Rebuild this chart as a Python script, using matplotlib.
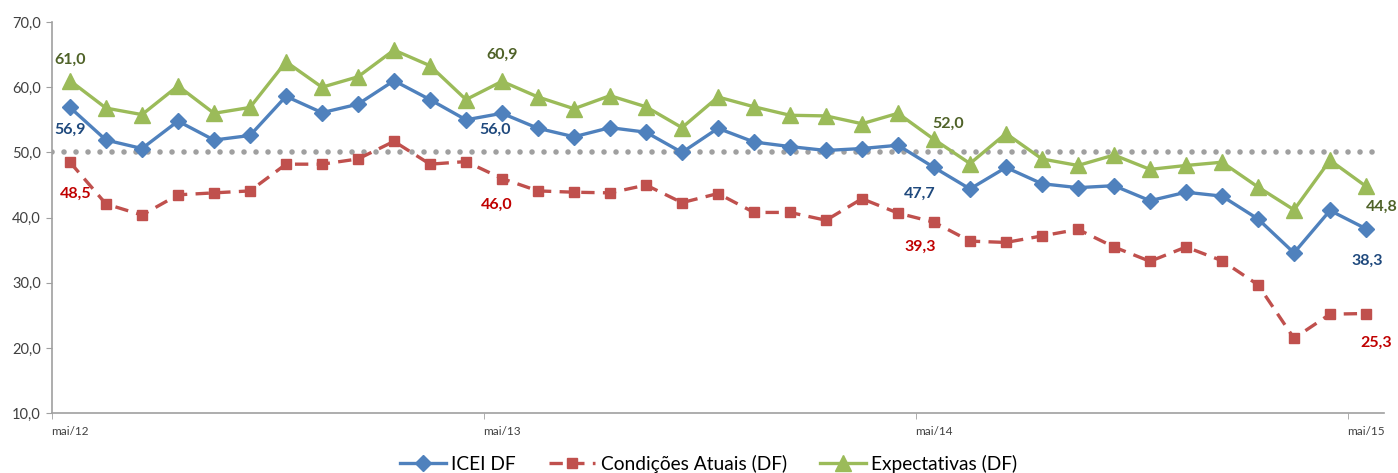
import matplotlib
matplotlib.use("Agg")
import matplotlib.pyplot as plt

months = ["mai/12", "mai/13", "mai/14", "mai/15"]
n_points = 37

icei = [56.9, 51.9, 50.6, 54.8, 51.9, 52.6, 58.6, 56.1, 57.4, 61.0, 58.1, 55.0,
        56.0, 53.7, 52.4, 53.8, 53.1, 50.0, 53.7, 51.6, 50.9, 50.3, 50.6, 51.1,
        47.7, 44.4, 47.7, 45.2, 44.6, 44.9, 42.6, 43.9, 43.3, 39.8, 34.6, 41.1, 38.3]
cond = [48.5, 42.1, 40.4, 43.5, 43.8, 44.1, 48.2, 48.2, 49.0, 51.7, 48.2, 48.6,
        46.0, 44.1, 43.9, 43.8, 45.0, 42.3, 43.7, 40.8, 40.8, 39.6, 42.9, 40.7,
        39.3, 36.4, 36.2, 37.2, 38.2, 35.5, 33.3, 35.5, 33.4, 29.7, 21.5, 25.2, 25.3]
expe = [61.0, 56.8, 55.8, 60.2, 56.0, 56.9, 63.9, 60.0, 61.6, 65.7, 63.3, 58.1,
        60.9, 58.5, 56.7, 58.7, 57.0, 53.8, 58.5, 57.0, 55.7, 55.6, 54.4, 56.0,
        52.0, 48.3, 52.9, 49.0, 48.0, 49.6, 47.4, 48.0, 48.5, 44.7, 41.2, 48.8, 44.8]
reference = 50.0
labelled = [0, 12, 24, 36]

plt.rcParams['font.family'] = ['Lato', 'DejaVu Sans']

fig = plt.figure(figsize=(13.98, 4.73), dpi=100)
ax = fig.add_axes([52/1398, 1-413.3/473, (1384-52)/1398, (413.3-22)/473])

x = list(range(n_points))

ax.plot([-0.5, n_points-0.5], [reference, reference], color='#A0A0A0', lw=4.0,
        linestyle=(0, (0.01, 2.15)), dash_capstyle='round', zorder=1)

l1, = ax.plot(x, icei, color='#4F81BD', lw=2.4, marker='D', markersize=8,
              label='ICEI DF', zorder=3)
l2, = ax.plot(x, cond, color='#C0504D', lw=2.4, marker='s', markersize=7.5,
              linestyle=(0, (4, 2.5)), label='Condições Atuais (DF)', zorder=3)
l3, = ax.plot(x, expe, color='#9BBB59', lw=2.4, marker='^', markersize=11.5,
              label='Expectativas (DF)', zorder=2)

ax.set_xlim(-0.5, n_points-0.5)
ax.set_ylim(10, 70)
ax.set_yticks(range(10, 71, 10))
ax.set_yticklabels([f"{v:.1f}".replace('.', ',') for v in range(10, 71, 10)],
                   fontsize=10.5, color='#404040')
ax.set_xticks([0, 12, 24, 36])
ax.set_xticklabels(months, fontsize=8.5, color='#404040')
ax.tick_params(axis='x', which='major', length=0, pad=9)
ax.set_xticks([-0.5, 11.5, 23.5, 35.5], minor=True)
ax.tick_params(axis='x', which='minor', length=4, color='#A0A0A0', direction='out')
ax.tick_params(axis='y', length=4, color='#A0A0A0', pad=4)

for s in ['top', 'right']:
    ax.spines[s].set_visible(False)
for s in ['left', 'bottom']:
    ax.spines[s].set_color('#A0A0A0')
    ax.spines[s].set_linewidth(1.2)

def fmt(v):
    return f"{v:.1f}".replace('.', ',')

green_off = {0: (0, 15), 12: (0, 19), 24: (10, 11), 36: (11.5, -15)}
blue_off = {0: (0, -16), 12: (-5, -12), 24: (-10, -19), 36: (1, -23)}
red_off = {0: (4, -23), 12: (-4, -19), 24: (-10, -18), 36: (7, -21)}

for i in labelled:
    ax.annotate(fmt(expe[i]), (i, expe[i]), xytext=green_off[i], textcoords='offset points',
                ha='center', va='center', fontsize=11.5, fontweight='bold', color='#4F6228')
    ax.annotate(fmt(icei[i]), (i, icei[i]), xytext=blue_off[i], textcoords='offset points',
                ha='center', va='center', fontsize=11.5, fontweight='bold', color='#1F497D')
    ax.annotate(fmt(cond[i]), (i, cond[i]), xytext=red_off[i], textcoords='offset points',
                ha='center', va='center', fontsize=11.5, fontweight='bold', color='#C00000')

fig.legend(handles=[l1, l2, l3], loc='center', bbox_to_anchor=(0.507, 1-464/473),
           ncol=3, frameon=False, fontsize=13.8, handlelength=2.4, columnspacing=1.75,
           handletextpad=0.27)

fig.savefig('out.png', dpi=100)
